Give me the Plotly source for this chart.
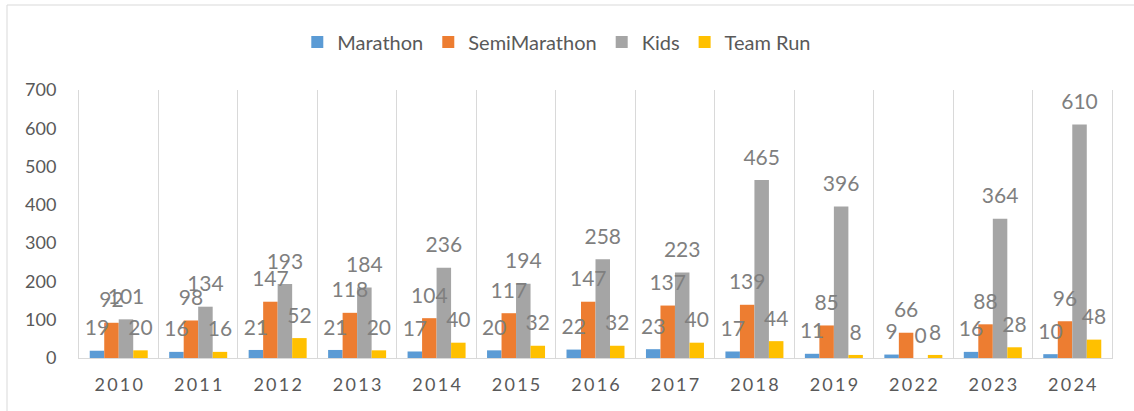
import plotly.graph_objects as go

years = ["2010", "2011", "2012", "2013", "2014", "2015", "2016",
         "2017", "2018", "2019", "2022", "2023", "2024"]
marathon = [19, 16, 21, 21, 17, 20, 22, 23, 17, 11, 9, 16, 10]
semi_marathon = [92, 98, 147, 118, 104, 117, 147, 137, 139, 85, 66, 88, 96]
kids = [101, 134, 193, 184, 236, 194, 258, 223, 465, 396, 0, 364, 610]
team_run = [20, 16, 52, 20, 40, 32, 32, 40, 44, 8, 8, 28, 48]

series_names = ["Marathon", "SemiMarathon", "Kids", "Team Run"]
series_values = [marathon, semi_marathon, kids, team_run]
colors = ["#5B9BD5", "#ED7D31", "#A5A5A5", "#FFC000"]

FONT = "Lato"
W, H = 1134, 411
L, R, T, B = 79, 22, 90, 53

fig = go.Figure()
# bars
for i, (name, vals, col) in enumerate(zip(series_names, series_values, colors)):
    fig.add_trace(go.Bar(
        x=years, y=vals, name=name, offsetgroup=str(i),
        marker=dict(color=col, line=dict(width=0)),
        hoverinfo="skip",
    ))
# data labels drawn on top of all bars
for i, (name, vals) in enumerate(zip(series_names, series_values)):
    fig.add_trace(go.Bar(
        x=years, y=vals, name=name + " labels", offsetgroup=str(i),
        marker=dict(color="rgba(0,0,0,0)", line=dict(width=0)),
        showlegend=False, hoverinfo="skip",
        text=vals,
        texttemplate="<span style='font-size:21px'>%{text}</span><br> ",
        textposition="outside",
        constraintext="none",
        cliponaxis=False,
        textfont=dict(family=FONT, size=8, color="#7F7F7F"),
    ))

spaced = ["\u2009".join(list(y)) for y in years]

pw = W - L - R
ph = H - T - B
fig.add_shape(type="rect", xref="paper", yref="paper",
              x0=(7 - L) / pw, x1=(W + 10 - L) / pw,
              y0=(H - B - (H + 10)) / ph, y1=(H - B - 5) / ph,
              line=dict(color="#D9D9D9", width=1), fillcolor="rgba(0,0,0,0)",
              layer="below")

fig.update_layout(
    width=W, height=H,
    margin=dict(l=L, r=R, t=T, b=B),
    paper_bgcolor="white", plot_bgcolor="white",
    barmode="group", bargap=0.27, bargroupgap=0,
    font=dict(family=FONT, color="#595959"),
    legend=dict(orientation="h", xref="container", yref="container",
                x=0.491, xanchor="center", y=1 - 42 / H, yanchor="middle",
                font=dict(family=FONT, size=20, color="#595959"),
                itemwidth=30, traceorder="normal"),
    showlegend=True,
    xaxis=dict(type="category", tickson="boundaries", showgrid=True,
               gridcolor="#D9D9D9", gridwidth=1,
               showline=True, linecolor="#D9D9D9", linewidth=1,
               ticks="", tickvals=years, ticktext=spaced,
               tickfont=dict(family=FONT, size=18, color="#595959"),
               ticklabelstandoff=10, zeroline=False, automargin=False),
    yaxis=dict(range=[0, 700], dtick=100, showgrid=False,
               showline=True, mirror=True, linecolor="#D9D9D9", linewidth=1,
               zeroline=False, ticks="",
               tickfont=dict(family=FONT, size=18, color="#595959"),
               ticklabelstandoff=18, automargin=False),
)

fig.write_html("out.html",
               config={"displayModeBar": False},
               post_script="document.body.style.margin='0';document.body.style.padding='0';")
